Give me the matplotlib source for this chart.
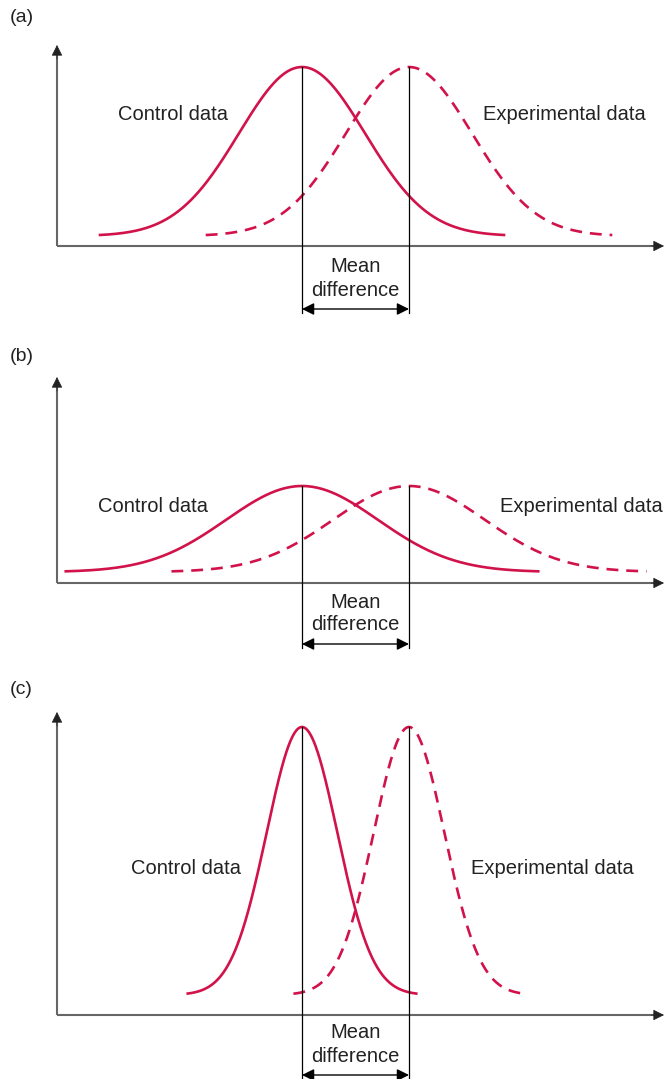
import numpy as np
import matplotlib.pyplot as plt

plt.rcParams['font.family'] = ['Liberation Sans', 'DejaVu Sans']

# chart values (x in units of the mean difference, heights in px above the x axis)
panel_labels = ["(a)", "(b)", "(c)"]
control_mean = 0.0
experimental_mean = 1.0
sigmas = [0.59, 0.71, 0.33]
peak_heights = [179, 97, 288]
tail_heights = [10, 11, 20]
half_spans = [1.90, 2.22, 1.08]
control_label = "Control data"
experimental_label = "Experimental data"
mean_label = "Mean\ndifference"

RED = '#d2124a'
AXIS_GREY = '#666666'
TEXT = '#222222'
W, H = 665, 1079
X0, UNIT = 302, 107  # px of control mean, px per mean difference

# layout of each panel in figure pixels
layout = [
    dict(top=0, bottom=330, axis=246, ytip=45, label_y=18,
         ctrl=(173, 114, 'center'), exp=(483, 114, 'left'),
         mean_y=267, diff_y=290, arrow_y=309, vbot=313),
    dict(top=330, bottom=665, axis=583, ytip=377, label_y=357,
         ctrl=(153, 506, 'center'), exp=(500, 506, 'left'),
         mean_y=602, diff_y=625, arrow_y=644, vbot=648),
    dict(top=665, bottom=1079, axis=1015, ytip=712, label_y=690,
         ctrl=(186, 868, 'center'), exp=(471, 868, 'left'),
         mean_y=1033, diff_y=1056, arrow_y=1075, vbot=1079),
]


def px_x(px):
    return (px - X0) / UNIT


def gauss(x, mean, sigma, peak, tail):
    return tail + (peak - tail) * np.exp(-(x - mean) ** 2 / (2 * sigma ** 2))


fig = plt.figure(figsize=(W / 100, H / 100), dpi=100)

for i, lay in enumerate(layout):
    ax = fig.add_axes([0, (H - lay['bottom']) / H, 1, (lay['bottom'] - lay['top']) / H])
    ax.set_xlim(px_x(0), px_x(W))
    ax.set_ylim(lay['axis'] - lay['bottom'], lay['axis'] - lay['top'])
    ax.axis('off')

    def py(px):
        return lay['axis'] - px

    # axes with arrows
    x_left, x_right = px_x(57), px_x(664)
    ax.plot([x_left, x_right - 0.05], [0, 0], color=AXIS_GREY, lw=1.5, solid_capstyle='butt')
    ax.plot([x_left, x_left], [0, py(lay['ytip']) - 6], color=AXIS_GREY, lw=1.5, solid_capstyle='butt')
    ax.annotate('', xy=(x_right, 0), xytext=(x_right - 0.12, 0),
                arrowprops=dict(arrowstyle='-|>', color=TEXT, lw=0.5, mutation_scale=17,
                                shrinkA=0, shrinkB=0), annotation_clip=False)
    ax.annotate('', xy=(x_left, py(lay['ytip'])), xytext=(x_left, py(lay['ytip']) - 14),
                arrowprops=dict(arrowstyle='-|>', color=TEXT, lw=0.5, mutation_scale=17,
                                shrinkA=0, shrinkB=0), annotation_clip=False)

    # curves
    xs = np.linspace(control_mean - half_spans[i], control_mean + half_spans[i], 300)
    ax.plot(xs, gauss(xs, control_mean, sigmas[i], peak_heights[i], tail_heights[i]),
            color=RED, lw=1.9, solid_capstyle='butt')
    xe = np.linspace(experimental_mean - half_spans[i], experimental_mean + half_spans[i], 300)
    ax.plot(xe, gauss(xe, experimental_mean, sigmas[i], peak_heights[i], tail_heights[i]),
            color=RED, lw=1.9, dashes=(4.5, 3))

    # mean lines and the difference arrow
    for m in (control_mean, experimental_mean):
        ax.plot([m, m], [peak_heights[i], py(lay['vbot'])], color='black', lw=0.9)
    ax.annotate('', xy=(experimental_mean, py(lay['arrow_y'])),
                xytext=(control_mean, py(lay['arrow_y'])),
                arrowprops=dict(arrowstyle='<|-|>', color='black', lw=1.0, mutation_scale=18,
                                shrinkA=0, shrinkB=0), annotation_clip=False)
    mid = (control_mean + experimental_mean) / 2
    for txt, yy in zip(mean_label.split('\n'), (lay['mean_y'], lay['diff_y'])):
        ax.text(mid, py(yy), txt, ha='center', va='center', fontsize=14.5, color=TEXT)

    # labels
    ax.text(px_x(10), py(lay['label_y']), panel_labels[i], ha='left', va='center',
            fontsize=14, color=TEXT)
    cx, cy, cha = lay['ctrl']
    ax.text(px_x(cx), py(cy), control_label, ha=cha, va='center', fontsize=14.5, color=TEXT)
    ex, ey, eha = lay['exp']
    ax.text(px_x(ex), py(ey), experimental_label, ha=eha, va='center', fontsize=14.5,
            color=TEXT)

fig.savefig('out.png', dpi=100)
